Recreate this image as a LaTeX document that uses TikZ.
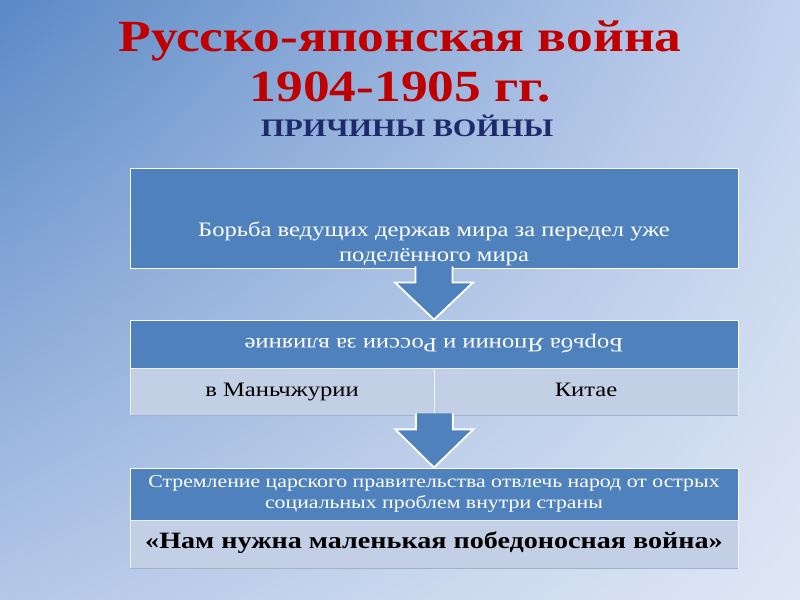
\documentclass[tikz,border=0pt]{standalone}
\usepackage{fontspec}
\setmainfont{Liberation Serif}[FakeStretch=1.2]
\usetikzlibrary{calc,shadings}
\definecolor{boxblue}{HTML}{4F81BD}
\definecolor{rowblue}{HTML}{C3CFE4}
\definecolor{rowline}{HTML}{9FB2D2}
\definecolor{titlered}{HTML}{C00000}
\definecolor{navy}{HTML}{1F2A6B}
\definecolor{bgtl}{HTML}{5A89C6}
\definecolor{bgtr}{HTML}{C3D2EE}
\definecolor{bgbl}{HTML}{B4C7E8}
\definecolor{bgbr}{HTML}{DFE7F4}

\begin{document}
\begin{tikzpicture}[x=0.3mm, y=-0.3mm,
  headbox/.style={draw=white, line width=0.8pt, fill=boxblue, minimum width=182.4mm, minimum height=#1, inner sep=0pt},
  cellbox/.style={draw=white!70!rowblue, line width=0.6pt, fill=rowblue, minimum width=91.2mm, minimum height=14.1mm, inner sep=0pt, text height=12pt, text depth=4pt, font=\fontsize{17.5}{20}\selectfont},
  wtext/.style={text=white, align=center, inner sep=0pt, font=\fontsize{17.5}{21}\selectfont},
  barrow/.style={draw=white, line width=1.6pt, fill=boxblue, line join=miter}
]
  \useasboundingbox (0,0) rectangle (800,600);
  \shade[upper left=bgtl, upper right=bgtr, lower left=bgbl, lower right=bgbr] (0,0) rectangle (800,600);

  % title
  \node[anchor=base, text=titlered, font=\fontsize{38}{44}\selectfont\bfseries] (title1) at (400,52) {Русско-японская война};
  \node[anchor=base, text=titlered, font=\fontsize{38}{44}\selectfont\bfseries] (title2) at (400,102) {1904-1905 гг.};
  \node[anchor=base, text=navy, font=\fontsize{21.5}{26}\selectfont\bfseries] (sub) at (407,137) {ПРИЧИНЫ ВОЙНЫ};

  % blocks
  \node[headbox=30mm] (b1) at (434,218) {};
  \node[wtext] (t1) at (434,244) {Борьба ведущих держав мира за передел уже\\поделённого мира};

  \node[headbox=14.4mm] (h2) at (434,344) {};
  \node[wtext, rotate=180] (t2) at (434,344) {Борьба Японии и России за влияние};
  \node[cellbox] (c1) at (282,391.5) {в Маньчжурии};
  \node[cellbox] (c2) at (586,391.5) {Китае};
  \draw[rowline, line width=1pt] (c1.south west) -- (c2.south east);

  \node[headbox=15.6mm] (h3) at (434,494) {};
  \node[wtext, font=\fontsize{15.5}{18.5}\selectfont] (t3) at (434,494) {Стремление царского правительства отвлечь народ от острых\\социальных проблем внутри страны};
  \node[cellbox, minimum width=182.4mm, minimum height=14.4mm, font=\fontsize{20}{24}\selectfont\bfseries] (c3) at (434,544) {«Нам нужна маленькая победоносная война»};
  \draw[rowline, line width=1pt] (c3.south west) -- (c3.south east);

  % arrows
  \foreach \up/\dn in {b1.south/h2.north, c1.south east/h3.north}{
    \draw[barrow] ($(\up)+(-18.5,-2)$) -- ($(\up)+(-18.5,14)$) -- ($(\up)+(-39,14)$)
      -- (\dn) -- ($(\up)+(39,14)$) -- ($(\up)+(18.5,14)$) -- ($(\up)+(18.5,-2)$);
  }
\end{tikzpicture}
\end{document}
